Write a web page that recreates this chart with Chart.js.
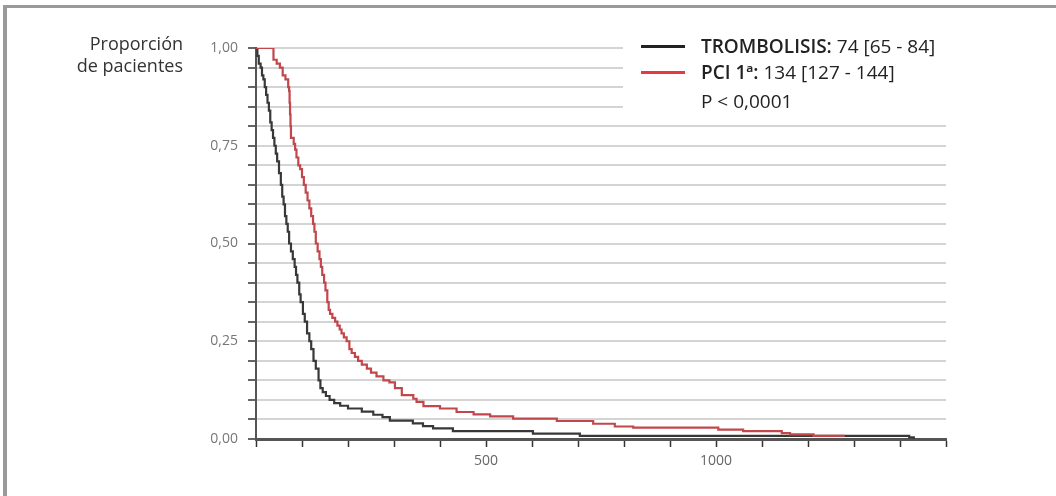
<!DOCTYPE html>
<html>
<head>
<meta charset="utf-8">
<script src="https://cdn.jsdelivr.net/npm/chart.js@4"></script>
<style>
  html, body { margin: 0; padding: 0; background: #fff; }
  body { width: 1056px; height: 496px; position: relative; overflow: hidden; font-family: 'Open Sans', sans-serif; }
  #marco { position: absolute; left: 3px; top: 5px; right: 0; bottom: 0; border-top: 3px solid #9a9a9a; border-left: 4px solid #9a9a9a; }
  #grafico { position: absolute; left: 0; top: 0; }
  #titulo { position: absolute; right: 873px; top: 32px; text-align: right; font-size: 18px; line-height: 22px; color: #333; }
  #leyenda { position: absolute; left: 623px; top: 35px; width: 328px; height: 81px; background: #fff; color: #222; font-size: 19px; }
  #leyenda div { position: absolute; left: 78px; white-space: nowrap; line-height: 22px; }
  #leyenda span.linea { position: absolute; left: -60px; top: 10px; width: 44px; height: 3px; }
  b { font-weight: 600; }
</style>
</head>
<body>
<div id="marco"></div>
<canvas id="grafico" width="1056" height="496"></canvas>
<div id="titulo">Proporción<br>de pacientes</div>
<div id="leyenda">
  <div style="top:0px"><span class="linea" style="background:#222"></span><b>TROMBOLISIS:</b> 74 [65 - 84]</div>
  <div style="top:26px"><span class="linea" style="background:#e8393f"></span><b>PCI 1ª:</b> 134 [127 - 144]</div>
  <div style="top:55px">P &lt; 0,0001</div>
</div>
<script>
// trombolisis (negro)
const diasTrombolisis = [0, 3, 6, 10, 13, 16, 19, 22, 25, 28, 31, 34, 37, 40, 43, 46, 50, 54, 57, 60, 63, 66, 69, 72, 76, 80, 84, 87, 90, 94, 97, 102, 106, 111, 116, 120, 125, 130, 136, 140, 145, 152, 160, 170, 183, 200, 230, 255, 275, 291, 341, 363, 385, 428, 602, 704, 1420, 1430]
const supTrombolisis = [1.00, 0.98, 0.96, 0.95, 0.93, 0.92, 0.90, 0.88, 0.86, 0.84, 0.81, 0.79, 0.77, 0.75, 0.73, 0.71, 0.68, 0.65, 0.62, 0.60, 0.57, 0.55, 0.53, 0.50, 0.48, 0.46, 0.44, 0.42, 0.40, 0.37, 0.35, 0.32, 0.30, 0.27, 0.25, 0.23, 0.20, 0.18, 0.15, 0.13, 0.12, 0.11, 0.10, 0.092, 0.085, 0.078, 0.070, 0.062, 0.056, 0.047, 0.040, 0.033, 0.027, 0.020, 0.014, 0.008, 0.004, 0.0]

// PCI primaria (rojo)
const diasPCI = [0, 30, 38, 45, 52, 58, 64, 70, 72, 73, 74, 75, 76, 82, 85, 88, 92, 96, 100, 104, 108, 112, 116, 120, 124, 127, 130, 134, 138, 141, 144, 148, 151, 155, 158, 161, 166, 172, 177, 182, 186, 191, 197, 203, 208, 215, 222, 230, 241, 250, 262, 277, 290, 302, 317, 342, 349, 364, 400, 436, 473, 509, 559, 654, 733, 780, 820, 1005, 1059, 1143, 1161, 1212, 1280]
const supPCI = [1.00, 1.00, 0.97, 0.96, 0.95, 0.93, 0.92, 0.90, 0.89, 0.86, 0.83, 0.80, 0.77, 0.755, 0.74, 0.72, 0.70, 0.69, 0.67, 0.65, 0.63, 0.61, 0.59, 0.57, 0.55, 0.53, 0.50, 0.48, 0.46, 0.44, 0.42, 0.40, 0.38, 0.35, 0.33, 0.32, 0.31, 0.30, 0.29, 0.28, 0.27, 0.26, 0.25, 0.23, 0.22, 0.21, 0.20, 0.19, 0.18, 0.17, 0.16, 0.15, 0.145, 0.13, 0.112, 0.103, 0.095, 0.084, 0.078, 0.069, 0.063, 0.058, 0.052, 0.046, 0.039, 0.032, 0.029, 0.024, 0.020, 0.015, 0.012, 0.008, 0.008]

const etiquetasX = [500, 1000]
const valoresY = [0, 0.25, 0.5, 0.75, 1]
const etiquetasY = ['0,00', '0,25', '0,50', '0,75', '1,00']

const puntos = (xs, ys) => xs.map((d, i) => ({ x: d, y: ys[i] }))

const ctx = document.getElementById('grafico').getContext('2d');

const myChart = new Chart(ctx, {
  type: 'line',
  data: {
    datasets: [{
      label: 'PCI 1ª',
      data: puntos(diasPCI, supPCI),
      borderColor: '#c2474c',
      borderWidth: 2.2,
      stepped: true,
      pointRadius: 0,
      fill: false
    }, {
      label: 'TROMBOLISIS',
      data: puntos(diasTrombolisis, supTrombolisis),
      borderColor: '#383838',
      borderWidth: 2.2,
      stepped: true,
      pointRadius: 0,
      fill: false
    }]
  },
  options: {
    responsive: false,
    animation: false,
    events: [],
    layout: { padding: { left: 0, right: 110, top: 48, bottom: 0 } },
    plugins: { legend: { display: false }, tooltip: { enabled: false } },
    scales: {
      x: {
        type: 'linear',
        min: 0,
        max: 1500,
        afterFit: (s) => { s.height = 57 },
        border: { color: '#555', width: 3 },
        grid: { drawOnChartArea: false, tickColor: '#333', tickLength: 8, tickWidth: 1.5 },
        ticks: {
          stepSize: 100,
          autoSkip: false,
          maxRotation: 0,
          padding: 6,
          color: '#666',
          font: { family: 'Open Sans', size: 14 },
          callback: (v) => etiquetasX.includes(v) ? String(v) : ''
        }
      },
      y: {
        min: 0,
        max: 1,
        afterFit: (s) => { s.width = 256 },
        border: { color: '#555', width: 2 },
        grid: {
          color: '#d4d4d4',
          lineWidth: 2,
          tickColor: '#333',
          tickLength: 8,
          tickWidth: 1.5
        },
        ticks: {
          stepSize: 0.05,
          autoSkip: false,
          padding: 10,
          color: '#777',
          font: { family: 'Open Sans', size: 14 },
          callback: (v) => {
            const i = valoresY.findIndex((t) => Math.abs(t - v) < 1e-6)
            return i >= 0 ? etiquetasY[i] : ''
          }
        }
      }
    }
  }
});
</script>
</body>
</html>
